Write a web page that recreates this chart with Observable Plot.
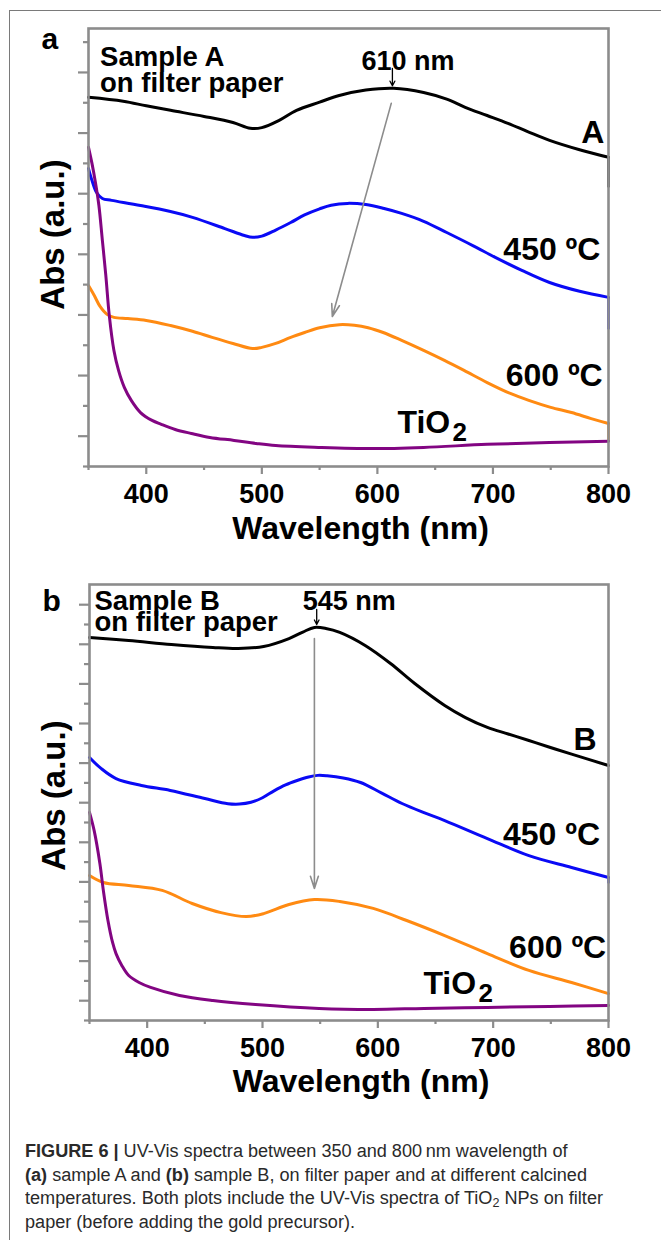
<!DOCTYPE html>
<html><head><meta charset="utf-8">
<script src="https://cdn.jsdelivr.net/npm/d3@7"></script>
<script src="https://cdn.jsdelivr.net/npm/@observablehq/plot@0.6"></script>
<style>
html,body{margin:0;padding:0;background:#fff;}
body{width:661px;height:1244px;overflow:hidden;position:relative;font-family:"Liberation Sans",Arial,sans-serif;}
#frame{position:absolute;left:9px;top:10px;width:652px;height:1230px;border-left:1.5px solid #7a7a7a;border-top:1.5px solid #7a7a7a;box-sizing:border-box;}
#pa{position:absolute;left:0;top:0;}
#pb{position:absolute;left:0;top:555px;}
#cap{position:absolute;left:25px;top:1140px;font-size:18px;line-height:23.5px;color:#2a2a2a;white-space:nowrap;transform-origin:0 0;}
#cap sub{font-size:12.5px;line-height:0;vertical-align:-3px;}
</style></head><body>
<div id="frame"></div>
<div id="pa"></div>
<div id="pb"></div>
<div id="cap">
<div><b>FIGURE 6 |</b> UV-Vis spectra between 350 and 800&#8201;nm wavelength of</div>
<div><b>(a)</b> sample A and <b>(b)</b> sample B, on filter paper and at different calcined</div>
<div id="l3">temperatures. Both plots include the UV-Vis spectra of TiO<sub>2</sub> NPs on filter</div>
<div>paper (before adding the gold precursor).</div>
</div>
<script>
// ---- ticks ----
const wavelengthTicks = [400, 500, 600, 700, 800];
const wavelengthMinor = [350, 450, 550, 650, 750];
const absMajorA = [1, 3, 5, 7, 9, 11, 13];
const absMinorA = [0, 2, 4, 6, 8, 10, 12, 14];
const absMajorB = [1, 3, 5, 7, 9, 11, 13, 15, 17, 19, 21];
const absMinorB = [0, 2, 4, 6, 8, 10, 12, 14, 16, 18, 20];

// ---- panel a spectra: [wavelength nm, Abs a.u.] ----
const sampleA = [[350,12.18],[380,12.05],[400,11.9],[421,11.75],[450,11.55],[475,11.35],[490,11.16],[500,11.18],[515,11.42],[530,11.75],[550,12.02],[567,12.24],[590,12.42],[614,12.48],[640,12.34],[660,12.12],[676,11.85],[695,11.58],[713,11.32],[730,11.05],[749,10.76],[775,10.45],[800,10.2],[800,9.24]];
const a450 = [[350,9.83],[353,9.44],[357,9.04],[362,8.84],[370,8.78],[395,8.61],[420,8.42],[440,8.22],[468,7.85],[485,7.62],[492,7.56],[500,7.6],[512,7.8],[525,8.05],[537,8.3],[550,8.5],[560,8.62],[574,8.68],[590,8.64],[605,8.52],[621,8.35],[640,8.09],[660,7.72],[683,7.28],[702,6.9],[725,6.47],[749,6.07],[775,5.78],[800,5.58],[800,4.55]];
const a600 = [[350,5.97],[355,5.64],[360,5.28],[366,5.02],[372,4.92],[384,4.88],[400,4.82],[421,4.65],[440,4.46],[457,4.26],[475,4.06],[492,3.89],[500,3.93],[512,4.06],[525,4.26],[537,4.42],[550,4.58],[567,4.68],[580,4.66],[592,4.58],[605,4.42],[621,4.16],[640,3.83],[658,3.5],[675,3.17],[695,2.77],[715,2.41],[731,2.18],[750,1.95],[768,1.78],[785,1.58],[800,1.42],[800,0.86]];
const aTiO2 = [[350,10.53],[353,10.0],[356,9.37],[359,8.61],[362,7.46],[365,6.3],[368,4.98],[372,3.83],[376,3.17],[381,2.61],[387,2.18],[395,1.78],[405,1.52],[413,1.39],[425,1.22],[439,1.09],[455,0.96],[476,0.86],[495,0.76],[512,0.69],[549,0.63],[596,0.59],[640,0.63],[695,0.73],[749,0.79],[800,0.83]];

// ---- panel b spectra ----
const sampleB = [[350,19.34],[384,19.19],[421,18.99],[457,18.84],[479,18.79],[501,18.89],[523,19.29],[535,19.62],[545,19.85],[555,19.8],[567,19.6],[589,18.94],[611,18.03],[632,17.02],[658,15.91],[676,15.3],[695,14.8],[713,14.47],[731,14.14],[749,13.8],[768,13.45],[800,12.88]];
const b450 = [[350,13.28],[360,12.73],[373,12.22],[395,11.87],[420,11.62],[450,11.21],[470,10.95],[480,10.93],[490,11.02],[500,11.25],[510,11.6],[520,11.9],[530,12.12],[540,12.3],[548,12.38],[556,12.36],[570,12.25],[585,12.02],[603,11.5],[621,10.96],[640,10.5],[658,10.1],[695,9.19],[731,8.33],[768,7.73],[800,7.22],[800,6.97]];
const b600 = [[350,7.32],[362,6.97],[384,6.82],[413,6.57],[439,5.91],[464,5.45],[486,5.25],[501,5.4],[523,5.86],[545,6.11],[567,6.01],[596,5.66],[625,5.05],[658,4.29],[695,3.38],[731,2.53],[768,1.92],[800,1.36]];
const bTiO2 = [[350,10.51],[354,9.6],[359,7.93],[362,6.57],[366,5.05],[370,3.94],[373,3.38],[378,2.78],[384,2.27],[393,1.92],[403,1.67],[428,1.26],[457,1.01],[494,0.81],[549,0.61],[596,0.56],[640,0.61],[695,0.66],[749,0.71],[800,0.76]];

// ---- peaks / shifts ----
const peakA = [{x: 613, y1: 13.13, y2: 12.56, label: "610 nm"}];
const peakB = [{x: 547, y1: 20.76, y2: 20.0, label: "545 nm"}];
const shiftA = [{x1: 612, y1: 11.98, x2: 561, y2: 4.95}];
const shiftB = [{x1: 545, y1: 19.29, x2: 545, y2: 6.67}];

const COLORS = {sample: "#000000", c450: "#0a0af5", c600: "#ff8a12", tio2: "#820582"};
const GRAY = "#8c8c8c";
const FONT = "'Liberation Sans', Arial, Helvetica, sans-serif";

function spectrum(data, color) {
  const n = data.length;
  const hasDrop = n > 1 && data[n - 1][0] === data[n - 2][0];
  const main = hasDrop ? data.slice(0, n - 1) : data;
  const marks = [Plot.line(main, {x: d => d[0], y: d => d[1], stroke: color, strokeWidth: 3, curve: "catmull-rom"})];
  if (hasDrop) marks.push(Plot.line(data.slice(n - 2), {x: d => d[0], y: d => d[1], stroke: color, strokeWidth: 2.4}));
  return marks;
}

function panel(cfg) {
  const t = cfg.text;
  return Plot.plot({
    width: 661, height: cfg.height,
    marginLeft: cfg.ml, marginRight: 53, marginTop: cfg.mt, marginBottom: cfg.mb,
    style: {fontFamily: FONT, fontWeight: "bold", background: "transparent", overflow: "visible", color: "#000"},
    x: {domain: [350, 800]},
    y: {domain: cfg.yDomain},
    marks: [
      ...cfg.series.flatMap(s => spectrum(s[0], s[1])),
      Plot.arrow(cfg.shift, {x1: "x1", y1: "y1", x2: "x2", y2: "y2", stroke: GRAY, strokeWidth: 1.6, headLength: 12, headAngle: 36}),
      Plot.arrow(cfg.peak, {x1: "x", x2: "x", y1: "y1", y2: "y2", stroke: "#000", strokeWidth: 1.3, headLength: 6, headAngle: 55}),
      Plot.text(cfg.peak, {x: "x", y: "y1", text: "label", textAnchor: "start", lineAnchor: "bottom", dx: cfg.peakDx, dy: 1, fontSize: 27}),
      Plot.frame({stroke: GRAY, strokeWidth: 2.6}),
      Plot.axisY(cfg.major, {tickSize: 10, tickFormat: () => "", stroke: GRAY, strokeWidth: 2.2, label: null}),
      Plot.axisY(cfg.minor, {tickSize: 5, tickFormat: () => "", stroke: GRAY, strokeWidth: 2.2, label: null}),
      Plot.axisX(wavelengthTicks, {tickSize: 8, tickPadding: 9, fontSize: 27, stroke: GRAY, fill: "#000", strokeWidth: 2.2, label: null}),
      Plot.axisX(wavelengthMinor, {tickSize: 4, tickFormat: () => "", stroke: GRAY, strokeWidth: 2.2, label: null}),
      Plot.text([cfg.letter], {frameAnchor: "top-left", textAnchor: "start", lineAnchor: "bottom", dx: -47, dy: cfg.letterDy, fontSize: 30}),
      Plot.text(t.sample, {x: "x", y: "y", text: "text", textAnchor: "start", lineAnchor: "bottom", lineHeight: cfg.sampleLH, fontSize: 27.5}),
      Plot.text(t.curves, {x: "x", y: "y", text: "text", textAnchor: "end", lineAnchor: "bottom", fontSize: 32}),
      Plot.text(t.tio, {x: "x", y: "y", text: () => "TiO", textAnchor: "start", lineAnchor: "bottom", fontSize: 32}),
      Plot.text(t.tio, {x: "x", y: "y", text: () => "2", textAnchor: "start", lineAnchor: "bottom", dx: 55, dy: 8, fontSize: 26}),
      Plot.text(["Abs (a.u.)"], {frameAnchor: "left", rotate: -90, textAnchor: "middle", lineAnchor: "middle", dx: -35, dy: cfg.ylabDy, fontSize: 33}),
      Plot.text(["Wavelength (nm)"], {frameAnchor: "bottom", textAnchor: "middle", lineAnchor: "bottom", dx: 12, dy: cfg.xlabDy, fontSize: 32})
    ]
  });
}

const textA = {
  sample: [{x: 360, y: 12.34, text: "Sample A\non filter paper"}],
  curves: [{x: 796.5, y: 10.66, text: "A"}, {x: 793, y: 6.8, text: "450 ºC"}, {x: 795, y: 2.67, text: "600 ºC"}],
  tio: [{x: 617.4, y: 1.12}]
};
const textB = {
  sample: [{x: 354.3, y: 19.65, text: "Sample B\non filter paper"}],
  curves: [{x: 789.6, y: 13.64, text: "B"}, {x: 792.7, y: 8.84, text: "450 ºC"}, {x: 798, y: 3.18, text: "600 ºC"}],
  tio: [{x: 639.5, y: 1.36}]
};

document.getElementById("pa").append(panel({
  height: 555, ml: 88, mt: 28, mb: 89, yDomain: [0, 14.45],
  major: absMajorA, minor: absMinorA, letter: "a", letterDy: 20, sampleLH: 0.945,
  series: [[sampleA, COLORS.sample], [a450, COLORS.c450], [a600, COLORS.c600], [aTiO2, COLORS.tio2]],
  peak: peakA, peakDx: -31, shift: shiftA, text: textA, ylabDy: -13, xlabDy: 72
}));
document.getElementById("pb").append(panel({
  height: 545, ml: 89, mt: 29, mb: 80, yDomain: [0, 22.02],
  major: absMajorB, minor: absMinorB, letter: "b", letterDy: 26, sampleLH: 0.78,
  series: [[sampleB, COLORS.sample], [b450, COLORS.c450], [b600, COLORS.c600], [bTiO2, COLORS.tio2]],
  peak: peakB, peakDx: -14, shift: shiftB, text: textB, ylabDy: -7, xlabDy: 71
}));

// fit caption width to reference line 3 width
const l3 = document.getElementById("l3");
const range = document.createRange(); range.selectNodeContents(l3);
const w = range.getBoundingClientRect().width;
const cap = document.getElementById("cap");
cap.style.transform = `scaleX(${578 / w})`;
</script>
</body></html>
